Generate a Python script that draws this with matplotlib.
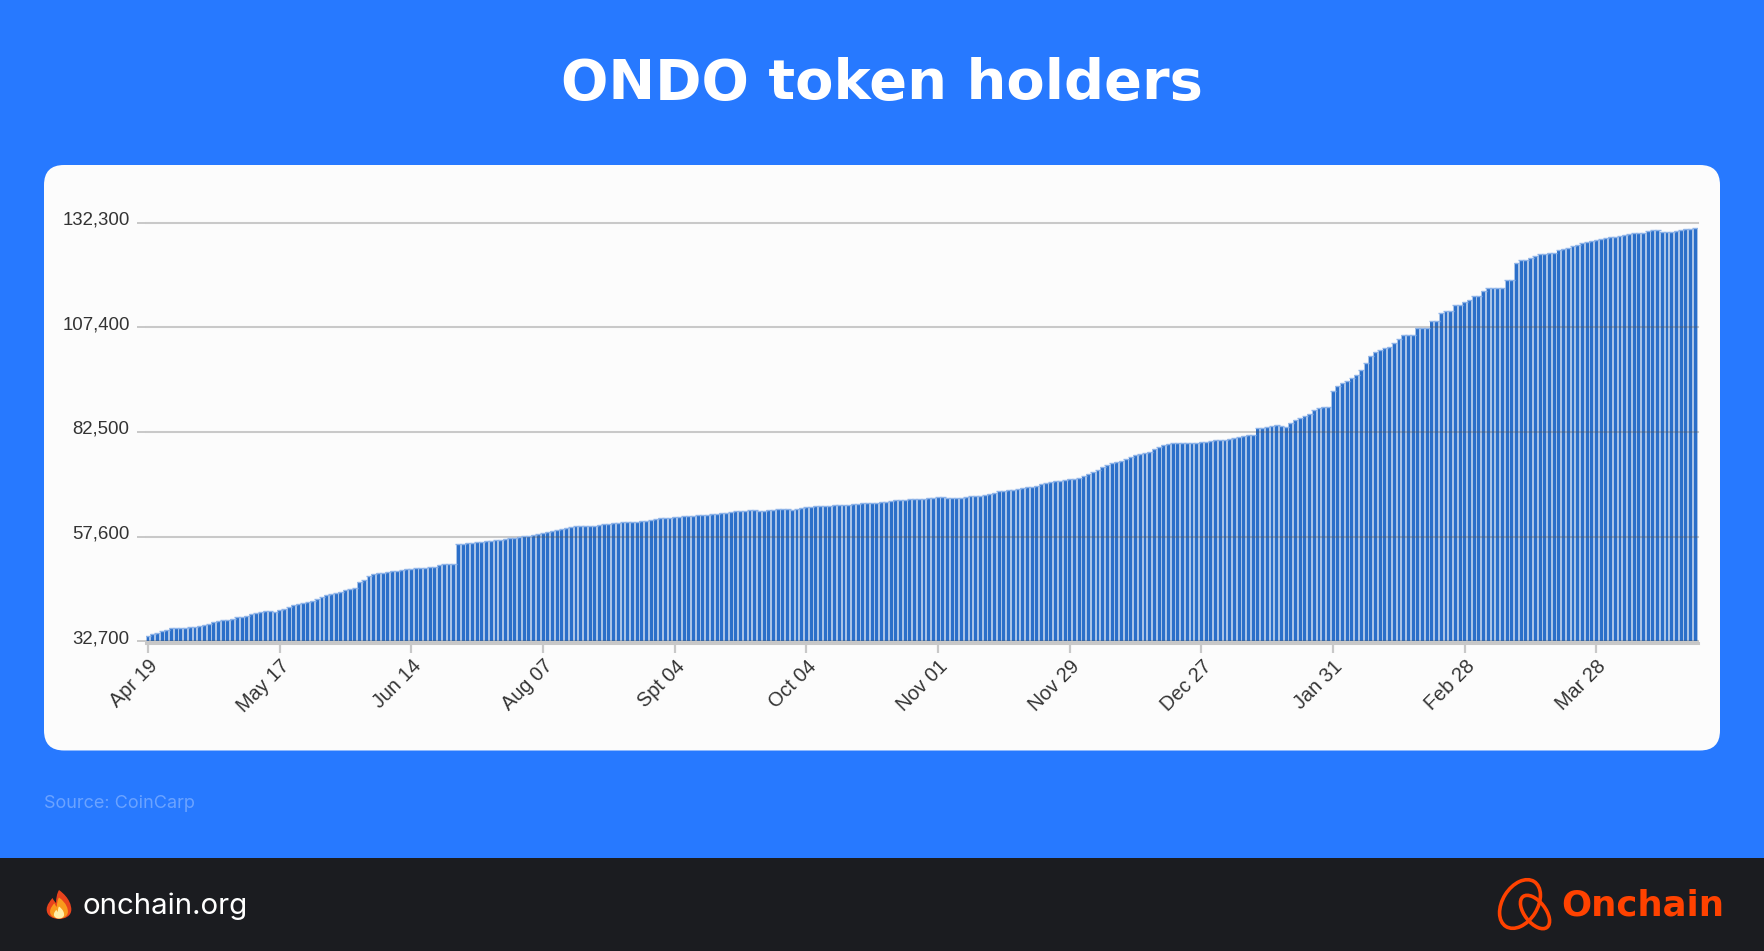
import matplotlib
matplotlib.use('Agg')
import numpy as np
import matplotlib.pyplot as plt
from matplotlib.patches import FancyBboxPatch, Rectangle, Ellipse, PathPatch
from matplotlib.path import Path
from matplotlib.transforms import ScaledTranslation

W, H = 1764, 951

# Data
holders = [
    33990, 34390, 34700, 35100, 35330, 35810, 35810, 35810, 35890, 36050,
    36210, 36360, 36600, 36920, 37320, 37560, 37710, 37870, 38110, 38430,
    38590, 38820, 39220, 39460, 39620, 39850, 39930, 39770, 40090, 40490,
    40960, 41280, 41680, 41830, 41990, 42390, 42790, 43260, 43740, 44060,
    44300, 44530, 44930, 45250, 45490, 46920, 47400, 48230, 48630, 48870,
    49030, 49190, 49340, 49500, 49580, 49820, 49980, 50060, 50060, 50140,
    50300, 50450, 50770, 51090, 51170, 51170, 55770, 55850, 56000, 56160,
    56240, 56320, 56480, 56640, 56720, 56800, 57040, 57190, 57270, 57430,
    57750, 57830, 57910, 58230, 58540, 58700, 58940, 59100, 59340, 59570,
    59890, 60050, 60130, 60130, 60130, 60130, 60370, 60530, 60690, 60840,
    60920, 61000, 61080, 61080, 61160, 61320, 61400, 61640, 61880, 61960,
    62040, 62110, 62270, 62350, 62430, 62510, 62510, 62670, 62750, 62830,
    62910, 62990, 63150, 63300, 63460, 63620, 63700, 63780, 63860, 63860,
    63780, 63620, 63860, 64020, 64100, 64180, 64180, 63860, 64180, 64410,
    64570, 64650, 64810, 64890, 64970, 64970, 65050, 65130, 65210, 65210,
    65290, 65450, 65530, 65530, 65610, 65690, 65840, 65920, 66080, 66240,
    66320, 66400, 66560, 66560, 66640, 66640, 66720, 66880, 67030, 67030,
    66720, 66800, 66800, 66880, 67030, 67190, 67270, 67350, 67510, 67670,
    67980, 68380, 68540, 68700, 68700, 68940, 69090, 69330, 69500, 69730,
    70050, 70370, 70610, 70770, 70930, 71080, 71320, 71400, 71560, 71960,
    72430, 73070, 73460, 74100, 74650, 75050, 75290, 75600, 76000, 76630,
    76950, 77190, 77430, 77660, 78380, 79010, 79410, 79730, 79890, 79890,
    79810, 79810, 79890, 79970, 80040, 80120, 80440, 80600, 80600, 80680,
    80920, 81080, 81230, 81600, 81670, 81670, 83340, 83500, 83580, 83820,
    84050, 83900, 83740, 84530, 85240, 85800, 86350, 86830, 87620, 88180,
    88340, 88340, 92220, 93330, 94050, 94600, 95310, 95950, 97220, 98800,
    100470, 101500, 101900, 102450, 102610, 103720, 104670, 105550, 105620, 105620,
    107210, 107290, 107290, 108830, 108830, 110730, 111370, 111370, 112630, 112630,
    113510, 113980, 114860, 114930, 115970, 116680, 116760, 116760, 116760, 118660,
    118740, 122710, 123340, 123420, 123970, 124290, 124850, 124930, 125010, 125090,
    125800, 126110, 126350, 126670, 126990, 127460, 127700, 127940, 128260, 128500,
    128650, 128810, 128970, 129130, 129450, 129680, 129760, 129760, 129760, 130320,
    130480, 130480, 130000, 130000, 130080, 130400, 130640, 130720, 130800, 130950,
]
y_ticks = [32700, 57600, 82500, 107400, 132300]
x_tick_pos = [0, 28, 56, 84, 112, 140, 168, 196, 224, 252, 280, 308]
x_tick_labels = ['Apr 19', 'May 17', 'Jun 14', 'Aug 07', 'Spt 04', 'Oct 04',
                 'Nov 01', 'Nov 29', 'Dec 27', 'Jan 31', 'Feb 28', 'Mar 28']

BLUE = '#2779FF'
DARK = '#1B1C20'
ORANGE = '#FF4200'

fig = plt.figure(figsize=(W / 100, H / 100), dpi=100, facecolor=BLUE)

# Page furniture drawn in pixel coordinates
bg = fig.add_axes([0, 0, 1, 1])
bg.set_xlim(0, W)
bg.set_ylim(H, 0)
bg.axis('off')
bg.add_patch(Rectangle((0, 858), W, H - 858, color=DARK, lw=0))
bg.add_patch(FancyBboxPatch((44 + 20, 165 + 20), 1676 - 40, 585.5 - 40,
                            boxstyle='round,pad=20,rounding_size=20',
                            fc='#FCFCFC', ec='none'))
bg.text(882, 84, 'ONDO token holders', color='white', ha='center', va='center',
        family='DejaVu Sans', weight='bold', fontsize=40.2)
bg.text(44, 804, 'Source: CoinCarp', color='#6BA3FF', ha='left', va='center',
        family='Inter', fontsize=13.0)
bg.text(83, 906, 'onchain.org', color='white', ha='left', va='center',
        family='Inter', fontsize=21.2)


def flame(cx, cy, s, color):
    verts = [(0, 1), (0.75, 0.45), (0.85, -0.1), (0.85, -0.35), (0.85, -0.8), (0.4, -1), (0, -1),
             (-0.4, -1), (-0.85, -0.8), (-0.85, -0.35), (-0.85, 0), (-0.6, 0.25), (-0.45, 0.45),
             (-0.35, 0.25), (-0.25, 0.15), (-0.2, 0.1), (-0.2, 0.45), (-0.15, 0.75), (0, 1)]
    codes = [Path.MOVETO] + [Path.CURVE4] * 18
    pts = [(cx + x * s, cy - y * s) for x, y in verts]
    bg.add_patch(PathPatch(Path(pts, codes), fc=color, ec='none'))


flame(59, 904.5, 14.5, '#E8431C')
flame(59, 908, 10.5, '#F99A1C')
flame(59, 912.5, 6, '#FFEFA8')

# Onchain logo
bg.add_patch(Ellipse((1520, 904), 35, 53, angle=32, fc='none', ec=ORANGE, lw=2.6))
bg.add_patch(Ellipse((1535, 912), 21, 39, angle=-38, fc='none', ec=ORANGE, lw=2.6))
bg.text(1561, 906, 'Onchain', color=ORANGE, ha='left', va='center',
        family='DejaVu Sans', weight='bold', fontsize=25.6)

# Chart
left, right, top, bottom = 145.65, 1697.6, 222.7, 641.3
ax = fig.add_axes([left / W, 1 - bottom / H, (right - left) / W, (bottom - top) / H])
ax.patch.set_alpha(0)
x = np.arange(len(holders))
ax.bar(x, holders, width=1.0, color='#2B6FC9', alpha=0.40, lw=0, zorder=1)
ax.bar(x, holders, width=0.62, color='#2B6FC9', lw=0, zorder=2)
ax.hlines(holders, x - 0.62, x + 0.62, color='#8DB3E8', lw=1.0, zorder=3)
ax.set_xlim(-0.5, len(holders) - 0.5)
ax.set_ylim(y_ticks[0], y_ticks[-1])
ax.set_axisbelow(False)
ax.yaxis.grid(True, color='#555555', alpha=0.30, lw=1.5, zorder=4, clip_on=False)
ax.set_yticks(y_ticks, [f'{v:,}' for v in y_ticks])
ax.set_xticks(x_tick_pos, x_tick_labels)
for s in ['top', 'right', 'left']:
    ax.spines[s].set_visible(False)
ax.spines['bottom'].set_position(('outward', 1))
ax.spines['bottom'].set_color('#C8C8C8')
ax.spines['bottom'].set_linewidth(2.2)
ax.tick_params(axis='y', length=6.5, width=1.4, color='#C8C8C8', pad=5,
               labelsize=13.4, labelcolor='#333333')
ax.tick_params(axis='x', length=7, width=1.6, color='#C8C8C8', pad=3,
               labelsize=14.3, labelcolor='#333333')
for t in ax.get_yticklabels() + ax.get_xticklabels():
    t.set_family('Liberation Sans')
# tick labels sit a little above their ticks
lift = ScaledTranslation(0, 4.5 / 100, fig.dpi_scale_trans)
for t in ax.get_yticklabels():
    t.set_transform(t.get_transform() + lift)
for t in ax.get_xticklabels():
    t.set_rotation(45)
    t.set_ha('right')
    t.set_va('top')
    t.set_rotation_mode('anchor')

fig.savefig('out.png', dpi=100, facecolor=fig.get_facecolor())
